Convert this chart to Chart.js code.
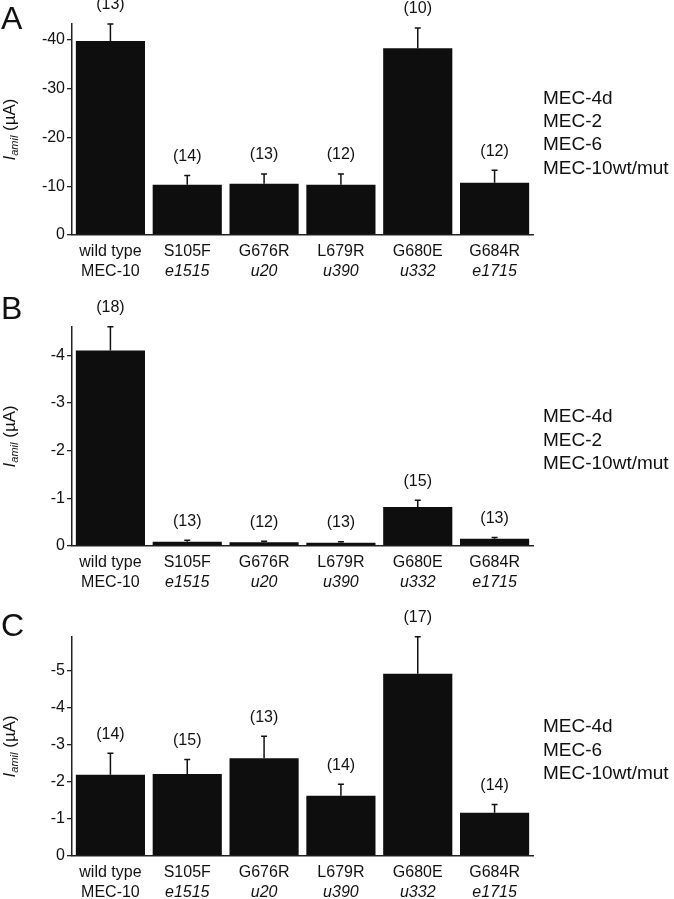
<!DOCTYPE html>
<html>
<head>
<meta charset="utf-8">
<script src="https://cdn.jsdelivr.net/npm/chart.js@4.4.1/dist/chart.umd.min.js"></script>
<style>
  html, body { margin: 0; padding: 0; background: #fff; }
  body { width: 674px; height: 899px; position: relative; overflow: hidden; }
  canvas { position: absolute; left: 0; }
</style>
</head>
<body>
<canvas id="panelA" width="674" height="290" style="top:0px"></canvas>
<canvas id="panelB" width="674" height="310" style="top:290px"></canvas>
<canvas id="panelC" width="674" height="299" style="top:600px"></canvas>
<script>
const categories = ['wild type', 'S105F', 'G676R', 'L679R', 'G680E', 'G684R'];
const alleles = ['MEC-10', 'e1515', 'u20', 'u390', 'u332', 'e1715'];

// A: MEC-4d + MEC-2 + MEC-6 + MEC-10
const meanA = [-39.8, -10.3, -10.5, -10.3, -38.3, -10.7];
const semA = [3.5, 1.9, 2.0, 2.2, 4.2, 2.6];
const nA = [13, 14, 13, 12, 10, 12];

// B: MEC-4d + MEC-2 + MEC-10
const meanB = [-4.10, -0.09, -0.08, -0.07, -0.82, -0.15];
const semB = [0.50, 0.03, 0.02, 0.02, 0.14, 0.03];
const nB = [18, 13, 12, 13, 15, 13];

// C: MEC-4d + MEC-6 + MEC-10
const meanC = [-2.20, -2.22, -2.64, -1.63, -4.93, -1.17];
const semC = [0.58, 0.39, 0.60, 0.31, 1.00, 0.22];
const nC = [14, 15, 13, 14, 17, 14];

const FONT = "'Liberation Sans', Arial, Helvetica, sans-serif";
const INK = '#111';

const panelPlugin = {
  id: 'panelExtras',
  afterDatasetsDraw(chart, args, opts) {
    const { ctx } = chart;
    const xs = chart.scales.x;
    const ys = chart.scales.y;
    ctx.save();
    ctx.strokeStyle = INK;
    ctx.fillStyle = INK;
    ctx.lineWidth = 1.5;
    opts.means.forEach((m, i) => {
      const x = xs.getPixelForValue(i);
      const y0 = ys.getPixelForValue(m);
      const y1 = ys.getPixelForValue(m - opts.sems[i]);
      ctx.beginPath();
      ctx.moveTo(x, y0);
      ctx.lineTo(x, y1);
      ctx.moveTo(x - 3, y1);
      ctx.lineTo(x + 3, y1);
      ctx.stroke();
      ctx.font = '16px ' + FONT;
      ctx.textAlign = 'center';
      ctx.textBaseline = 'middle';
      ctx.fillText('(' + opts.ns[i] + ')', x, y1 - 19);
    });
    ctx.restore();
  },
  afterDraw(chart, args, opts) {
    const { ctx, chartArea } = chart;
    const xs = chart.scales.x;
    ctx.save();
    ctx.fillStyle = INK;
    ctx.textBaseline = 'middle';
    ctx.textAlign = 'center';

    // category labels, allele names in italics
    categories.forEach((c, i) => {
      const x = xs.getPixelForValue(i);
      ctx.font = '16px ' + FONT;
      ctx.fillText(c, x, chartArea.bottom + 17);
      ctx.font = (/^[a-z]/.test(alleles[i]) ? 'italic ' : '') + '16px ' + FONT;
      ctx.fillText(alleles[i], x, chartArea.bottom + 37);
    });

    // panel letter
    ctx.textAlign = 'left';
    ctx.textBaseline = 'alphabetic';
    ctx.font = '32px ' + FONT;
    ctx.fillText(opts.letter, 1, opts.letterY);

    // y-axis title: I_amil (µA)
    const cy = (chartArea.top + chartArea.bottom) / 2;
    ctx.translate(10, cy);
    ctx.rotate(-Math.PI / 2);
    ctx.font = 'italic 17px ' + FONT;
    const wI = ctx.measureText('I').width;
    ctx.font = 'italic 11px ' + FONT;
    const wSub = ctx.measureText('amil').width;
    ctx.font = '17px ' + FONT;
    const wRest = ctx.measureText(' (µA)').width;
    let tx = -(wI + wSub + wRest) / 2;
    ctx.textBaseline = 'middle';
    ctx.font = 'italic 17px ' + FONT;
    ctx.fillText('I', tx, 0);
    tx += wI;
    ctx.font = 'italic 11px ' + FONT;
    ctx.fillText('amil', tx, 5);
    tx += wSub;
    ctx.font = '17px ' + FONT;
    ctx.fillText(' (µA)', tx, 0);
    ctx.setTransform(1, 0, 0, 1, 0, 0);

    // construct list on the right
    ctx.font = '19px ' + FONT;
    ctx.textAlign = 'left';
    ctx.textBaseline = 'middle';
    const gap = 23.3;
    const y0 = cy + 4 - (opts.side.length - 1) * gap / 2;
    opts.side.forEach((s, i) => ctx.fillText(s, 543, y0 + i * gap));
    ctx.restore();
  }
};

function makePanel(id, means, sems, ns, step, padTop, xHeight, letter, letterY, side) {
  const axisMin = Math.min(...means.map((m, i) => m - sems[i]));
  return new Chart(document.getElementById(id), {
    type: 'bar',
    data: {
      labels: categories,
      datasets: [{
        data: means,
        backgroundColor: '#0e0e0e',
        borderWidth: 0,
        barPercentage: 0.9,
        categoryPercentage: 1
      }]
    },
    options: {
      responsive: false,
      animation: false,
      devicePixelRatio: 1,
      layout: { padding: { top: padTop, right: 141, left: 0, bottom: 0 } },
      plugins: {
        legend: { display: false },
        tooltip: { enabled: false },
        panelExtras: { means, sems, ns, letter, letterY, side }
      },
      scales: {
        x: {
          grid: { display: false },
          border: { display: true, color: '#222', width: 1.5 },
          ticks: { display: false },
          afterFit: (s) => { s.height = xHeight; }
        },
        y: {
          reverse: true,
          min: axisMin,
          max: 0,
          ticks: { stepSize: step, includeBounds: false, color: INK, font: { size: 16, family: FONT }, padding: 2 },
          afterBuildTicks: (s) => {
            s.ticks = s.ticks.filter((t) => Math.abs(t.value / step - Math.round(t.value / step)) < 1e-6);
          },
          grid: { drawOnChartArea: false, drawTicks: true, tickLength: 5, color: '#222', lineWidth: 1.3 },
          border: { display: true, color: '#222', width: 1.5 },
          afterFit: (s) => { s.width = 72; }
        }
      }
    },
    plugins: [panelPlugin]
  });
}

makePanel('panelA', meanA, semA, nA, 10, 24, 55, 'A', 29, ['MEC-4d', 'MEC-2', 'MEC-6', 'MEC-10wt/mut']);
makePanel('panelB', meanB, semB, nB, 1, 36.7, 54, 'B', 29, ['MEC-4d', 'MEC-2', 'MEC-10wt/mut']);
makePanel('panelC', meanC, semC, nC, 1, 36.7, 43, 'C', 36, ['MEC-4d', 'MEC-6', 'MEC-10wt/mut']);
</script>
</body>
</html>
